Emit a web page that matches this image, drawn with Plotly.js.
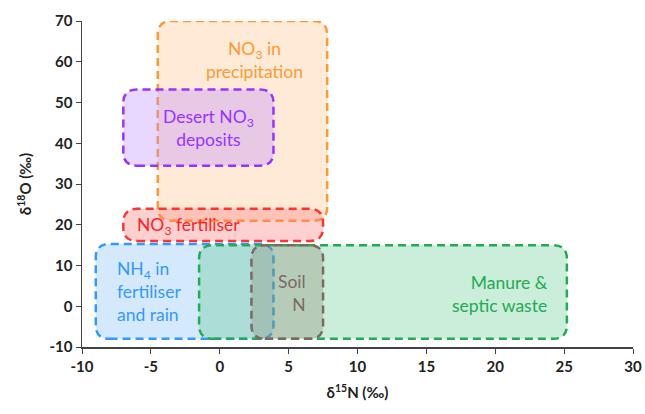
<!DOCTYPE html>
<html><head><meta charset="utf-8">
<script src="https://cdn.plot.ly/plotly-3.0.1.min.js"></script>
<style>html,body{margin:0;padding:0;background:#fff}#chart{width:645px;height:414px}</style>
</head><body><div id="chart"></div>
<script>
// Source regions (delta15N range, delta18O range)
const sources = ["NO3 in precipitation","Desert NO3 deposits","NO3 fertiliser","NH4 in fertiliser and rain","Manure & septic waste","Soil N"];
const xMin = [-4.5, -7.0, -7.0, -9.0, -1.5, 2.3];
const xMax = [7.8, 3.9, 7.5, 3.9, 25.2, 7.5];
const yMin = [21.0, 34.5, 16.0, -8.0, -8.0, -8.0];
const yMax = [70.0, 53.2, 23.9, 15.3, 15.0, 15.0];
const lineColors = ["#FF9933","#9933FF","#FF3333","#3399FF","#22AA55","#7A6A62"];
const fillColors = ["rgba(252,196,140,0.35)","rgba(190,140,255,0.35)","rgba(255,120,120,0.35)","rgba(150,200,250,0.4)","rgba(80,200,130,0.3)","rgba(140,125,110,0.3)"];
// Labels
const labelText = ["NO<sub>3</sub> in<br>precipitation","Desert NO<sub>3</sub><br>deposits","NO<sub>3</sub> fertiliser","NH<sub>4</sub> in<br>fertiliser<br>and rain","Manure &amp;<br>septic waste","Soil<br>N"];
const labelX = [2.55, -0.8, -2.3, -7.6, 24.0, 6.4];
const labelY = [60.4, 43.7, 19.6, 3.5, 3.0, 3.3];
const labelAnchor = ["center","center","center","left","right","right"];
const labelColors = ["#FF9933","#9933FF","#FF2222","#3399FF","#22AA55","#7A6A62"];
// Axis ticks
const xTicks = [-10,-5,0,5,10,15,20,25,30];
const xTickText = ["-10","-5","0","5","10","15","20","25","30"];
const yTicks = [-10,0,10,20,30,40,50,60,70];
const yTickText = ["-10","0","10","20","30","40","50","60","70"];

const rx = 1.0, ry = 3.3;
function rrect(x0,x1,y0,y1){
  return `M${x0+rx},${y0} L${x1-rx},${y0} Q${x1},${y0} ${x1},${y0+ry} L${x1},${y1-ry} Q${x1},${y1} ${x1-rx},${y1} L${x0+rx},${y1} Q${x0},${y1} ${x0},${y1-ry} L${x0},${y0+ry} Q${x0},${y0} ${x0+rx},${y0} Z`;
}
const shapes = sources.map((s,i)=>({
  type:'path', xref:'x', yref:'y', layer:'above',
  path: rrect(xMin[i],xMax[i],yMin[i],yMax[i]),
  fillcolor: fillColors[i],
  line:{color:lineColors[i], width:2.5, dash:'8px,5px'}
}));
const fam = 'Lato, "Open Sans", sans-serif';
const annotations = sources.map((s,i)=>({
  x:labelX[i], y:labelY[i], xref:'x', yref:'y', text:labelText[i], showarrow:false,
  xanchor:labelAnchor[i], align:labelAnchor[i],
  font:{family:fam, size:17.5, color:labelColors[i]}
}));
const data = [{x:[], y:[], type:'scatter', mode:'markers', showlegend:false, hoverinfo:'skip'}];
const tickFont = {family:fam, size:15, color:'#222', weight:'bold'};
const titleFont = {family:fam, size:15, color:'#222', weight:'bold'};
const layout = {
  width:645, height:414,
  margin:{l:82, r:12, t:21, b:67},
  paper_bgcolor:'#fff', plot_bgcolor:'#fff',
  showlegend:false,
  xaxis:{range:[-10,30], tickmode:'array', tickvals:xTicks, ticktext:xTickText, showgrid:false, zeroline:false, showline:true, linecolor:'#444', linewidth:1.5,
    ticks:'outside', ticklen:5, tickcolor:'#444', tickfont:tickFont,
    title:{text:'δ<sup>15</sup>N (‰)', font:titleFont, standoff:14}},
  yaxis:{range:[-10,70], tickmode:'array', tickvals:yTicks, ticktext:yTickText, showgrid:false, zeroline:false, showline:true, linecolor:'#444', linewidth:1.5,
    ticks:'outside', ticklen:5, tickcolor:'#444', tickfont:tickFont,
    title:{text:'δ<sup>18</sup>O (‰)', font:titleFont, standoff:14}},
  shapes: shapes,
  annotations: annotations
};
Plotly.newPlot('chart', data, layout, {displayModeBar:false, staticPlot:true});
</script></body></html>
